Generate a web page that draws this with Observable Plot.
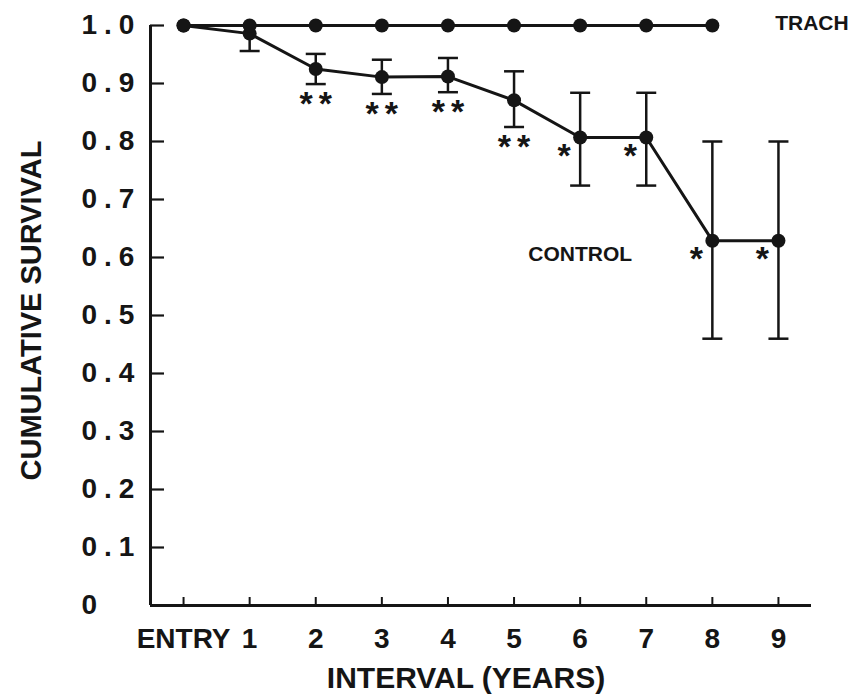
<!DOCTYPE html>
<html>
<head>
<meta charset="utf-8">
<script src="https://cdn.jsdelivr.net/npm/d3@7"></script>
<script src="https://cdn.jsdelivr.net/npm/@observablehq/plot@0.6"></script>
<style>
  html, body { margin: 0; padding: 0; background: #fff; }
  #chart svg { display: block; }
</style>
</head>
<body>
<div id="chart"></div>
<script>
// ---- data ----
const xTicks = [0, 1, 2, 3, 4, 5, 6, 7, 8, 9];
const xTickLabels = ["ENTRY", "1", "2", "3", "4", "5", "6", "7", "8", "9"];
const yTicks = [0, 0.1, 0.2, 0.3, 0.4, 0.5, 0.6, 0.7, 0.8, 0.9, 1.0];
const yTickLabels = ["0", "0.1", "0.2", "0.3", "0.4", "0.5", "0.6", "0.7", "0.8", "0.9", "1.0"];

const trachInterval = [0, 1, 2, 3, 4, 5, 6, 7, 8];
const trachSurvival = [1, 1, 1, 1, 1, 1, 1, 1, 1];

const controlInterval = [0, 1, 2, 3, 4, 5, 6, 7, 8, 9];
const controlSurvival = [1.0, 0.986, 0.925, 0.911, 0.912, 0.871, 0.807, 0.807, 0.629, 0.629];
const controlLower    = [null, 0.956, 0.899, 0.882, 0.885, 0.825, 0.724, 0.724, 0.460, 0.460];
const controlUpper    = [null, 1.000, 0.951, 0.941, 0.944, 0.921, 0.884, 0.884, 0.800, 0.800];
const significance    = ["", "", "**", "**", "**", "**", "*", "*", "*", "*"];

const seriesLabels = ["TRACH", "CONTROL"];
const seriesLabelX = [8.95, 6.0];
const seriesLabelY = [1.0, 0.605];

const xAxisTitle = "INTERVAL (YEARS)";
const yAxisTitle = "CUMULATIVE SURVIVAL";

// ---- tables built from the arrays ----
const trach = trachInterval.map((x, i) => ({x, y: trachSurvival[i]}));
const control = controlInterval.map((x, i) => ({
  x, y: controlSurvival[i], lo: controlLower[i], hi: controlUpper[i], sig: significance[i]
}));
const errs = control.filter(d => d.lo != null);
const doubles = control.filter(d => d.sig === "**");
const singles = control.filter(d => d.sig === "*");
const labels = seriesLabels.map((t, i) => ({t, x: seriesLabelX[i], y: seriesLabelY[i]}));
const yLabelMap = new Map(yTicks.map((d, i) => [d, yTickLabels[i]]));

const xDomain = [-0.5, 9.5];
const W = 858, H = 698, mL = 150, mR = 47, mT = 25, mB = 93;
const plotW = W - mL - mR, plotH = H - mT - mB;
const ink = "#151515";
const font = "'Liberation Sans', Arial, Helvetica, sans-serif";

// horizontal cap symbol for error bars
const capSymbol = {
  draw(context, size) {
    const w = Math.sqrt(size / Math.PI);
    context.moveTo(-w, 0);
    context.lineTo(w, 0);
  }
};

const starFs = 34;
const starShift = 0.127 * starFs;

const chart = Plot.plot({
  width: W, height: H,
  marginLeft: mL, marginRight: mR, marginTop: mT, marginBottom: mB,
  x: {domain: xDomain},
  y: {domain: [0, 1]},
  style: {fontFamily: font, background: "#fff", color: ink, overflow: "visible"},
  marks: [
    // axes lines
    Plot.ruleY([0], {stroke: ink, strokeWidth: 3}),
    Plot.ruleX([xDomain[0]], {y1: 0, y2: 1, stroke: ink, strokeWidth: 3}),
    // inward ticks
    Plot.tickY(yTicks.filter(d => d > 0), {y: d => d, insetRight: plotW - 14, stroke: ink, strokeWidth: 2.2}),
    Plot.tickX(xTicks, {x: d => d, insetTop: plotH - 8, stroke: ink, strokeWidth: 2}),
    // tick labels
    Plot.axisY(yTicks, {
      tickSize: 0, tickPadding: 69, textAnchor: "start",
      tickFormat: d => yLabelMap.get(d), fontSize: 28, fontWeight: "bold", label: null, fill: ink
    }),
    Plot.axisX(xTicks, {
      tickSize: 0, tickPadding: 23,
      tickFormat: d => xTickLabels[d], fontSize: 28, fontWeight: "bold", label: null, fill: ink
    }),
    // axis titles
    Plot.text([xAxisTitle], {frameAnchor: "bottom", text: d => d, dy: 82, dx: -15, fontSize: 30, fontWeight: "bold", fill: ink}),
    Plot.text([yAxisTitle], {frameAnchor: "left", textAnchor: "middle", text: d => d, rotate: -90, dx: -119, dy: -5, fontSize: 29, fontWeight: "bold", fill: ink}),
    // control error bars
    Plot.ruleX(errs, {x: "x", y1: "lo", y2: "hi", stroke: ink, strokeWidth: 2.5}),
    Plot.dot(errs, {x: "x", y: "lo", symbol: capSymbol, r: 10, stroke: ink, strokeWidth: 2.5, fill: "none"}),
    Plot.dot(errs, {x: "x", y: "hi", symbol: capSymbol, r: 10, stroke: ink, strokeWidth: 2.5, fill: "none"}),
    // control line and points
    Plot.line(control, {x: "x", y: "y", stroke: ink, strokeWidth: 3}),
    Plot.dot(control, {x: "x", y: "y", r: 7, fill: ink}),
    // trach line and points
    Plot.line(trach, {x: "x", y: "y", stroke: ink, strokeWidth: 3}),
    Plot.dot(trach, {x: "x", y: "y", r: 7, fill: ink}),
    // significance stars
    Plot.text(doubles, {x: "x", y: "lo", text: "sig", dx: 3, dy: 16 + starShift, fontSize: starFs, fontWeight: "bold", fill: ink}),
    Plot.text(singles, {x: "x", y: "y", text: "sig", dx: -16, dy: 14 + starShift, fontSize: starFs, fontWeight: "bold", fill: ink}),
    // series labels
    Plot.text(labels.slice(0, 1), {x: "x", y: "y", text: "t", textAnchor: "start", dy: -2, fontSize: 21, fontWeight: "bold", fill: ink}),
    Plot.text(labels.slice(1), {x: "x", y: "y", text: "t", fontSize: 21, fontWeight: "bold", fill: ink})
  ]
});

document.getElementById("chart").appendChild(chart);

// letter spacing on y tick labels and double stars, like the original typesetting
d3.select(chart).selectAll('g[aria-label="y-axis tick label"] text').style("letter-spacing", "7px");
d3.select(chart).selectAll("text").filter(function() { return this.textContent === "**"; })
  .style("letter-spacing", "6px");
</script>
</body>
</html>
